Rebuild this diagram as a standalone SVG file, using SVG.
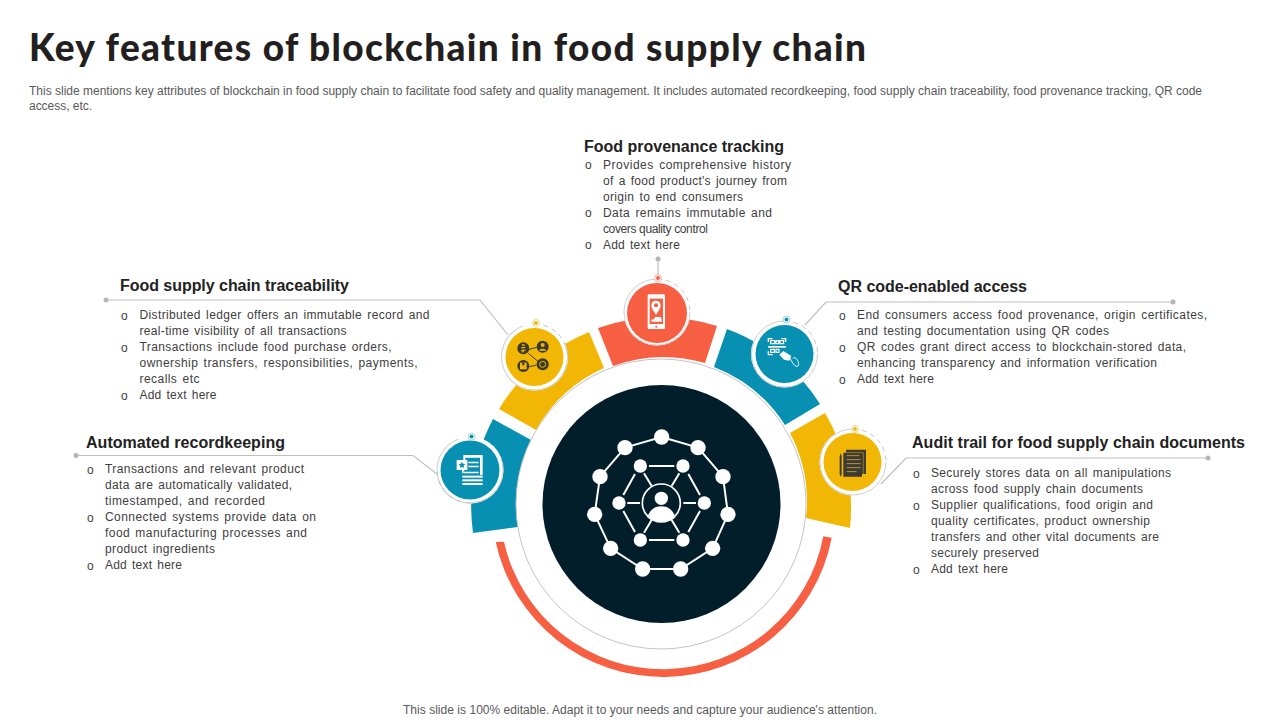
<svg xmlns="http://www.w3.org/2000/svg" width="1280" height="720" viewBox="0 0 1280 720">
<style>
text{font-family:"Liberation Sans",Arial,sans-serif}
.title{font-family:Lato,"Liberation Sans",sans-serif;font-weight:900;font-size:37px;fill:#231f20}
.sub{font-size:12px;fill:#595959}
.h{font-weight:700;font-size:16px;fill:#222}
.b{font-size:12px;fill:#404040;word-spacing:1.5px}
.o{font-family:"Liberation Mono",monospace;font-size:12px;fill:#404040}
.conn{fill:none;stroke:#bfbfbf;stroke-width:1.2}
.cdot{fill:#b5b5b5}
.disc{fill:#fff}
.ring{fill:none;stroke:#cfcfcf;stroke-width:1}
.dash{fill:none;stroke:#bdbdbd;stroke-width:.9;stroke-dasharray:5 4}
.w{fill:#fff}
.wl{stroke:#fff;stroke-width:6;fill:none}
.d{fill:#3a3a2c}
.dl{stroke:#3a3a2c;stroke-width:3;fill:none}
.red{fill:#f75f43}.yel{fill:#f2b705}.tea{fill:#0890b2}
</style>
<defs>
<path id="dq" d="M0-33A33 33 0 0 1 33 0"/>
<circle id="wh" r="33.5" class="disc"/>
<circle id="rg" r="33" class="ring" pathLength="360" stroke-dasharray="270 90"/>
</defs>
<rect width="1280" height="720" fill="#fff"/>
<text class="title" x="29" y="61" textLength="837" lengthAdjust="spacing">Key features of blockchain in food supply chain</text>
<text class="sub" x="29" y="94.500" textLength="1173" lengthAdjust="spacing">This slide mentions key attributes of blockchain in food supply chain to facilitate food safety and quality management. It includes automated recordkeeping, food supply chain traceability, food provenance tracking, QR code</text>
<text class="sub" x="29" y="109.500" textLength="63" lengthAdjust="spacing">access, etc.</text>
<text class="sub" x="403" y="714" textLength="474" lengthAdjust="spacing">This slide is 100% editable. Adapt it to your needs and capture your audience's attention.</text>

<g id="hub">
<path class="tea" d="M473 533A190 190 0 0 1 493 419L531 440A146 146 0 0 0 518 527Z"/>
<path class="yel" d="M499 409A190 190 0 0 1 589 332L604 368A148 148 0 0 0 536 430Z"/>
<path class="red" d="M598 328A187 187 0 0 1 717 326L705 363A148 148 0 0 0 613 366Z"/>
<path class="tea" d="M727 329A187 187 0 0 1 820 404L785 425A148 148 0 0 0 714 367Z"/>
<path class="yel" d="M825 413A187 187 0 0 1 850 528L806 518A148 148 0 0 0 790 433Z"/>
<path class="red" d="M495.700 542A171.500 171.500 0 0 0 831.700 537.700L823.300 536.300A163 163 0 0 1 504 541.700Z"/>
<circle cx="661" cy="504" r="145" fill="#fff" stroke="#c4c4c4" stroke-width="1"/>
<circle cx="661.500" cy="504" r="119" fill="#021e2b"/>
<g transform="translate(570 410) scale(.3333)">
<path class="wl" d="M275 81L384 113L459 200L474 313L428 415L332 477H218L122 415L74 313L90 200L165 113Z"/>
<path class="wl" d="M237 168H313M237 390H313M195 192L160 255M355 192L390 255M195 366L160 303M355 366L390 303M172 279H210M340 279H378M222 190L245 228M328 190L305 228M222 368L245 330M328 368L305 330"/>
<g class="w"><circle cx="275" cy="81" r="23"/><circle cx="384" cy="113" r="23"/><circle cx="459" cy="200" r="23"/><circle cx="474" cy="313" r="23"/><circle cx="428" cy="415" r="23"/><circle cx="332" cy="477" r="23"/><circle cx="218" cy="477" r="23"/><circle cx="122" cy="415" r="23"/><circle cx="74" cy="313" r="23"/><circle cx="90" cy="200" r="23"/><circle cx="165" cy="113" r="23"/>
<circle cx="211" cy="168" r="20"/><circle cx="339" cy="168" r="20"/><circle cx="403" cy="279" r="20"/><circle cx="339" cy="390" r="20"/><circle cx="211" cy="390" r="20"/><circle cx="147" cy="279" r="20"/>
<circle cx="274" cy="265" r="20"/><path d="M232 322C240 298 255 289 274 289S308 298 316 322C300 340 250 340 232 322Z"/></g>
<circle cx="274" cy="279" r="57" fill="none" stroke="#fff" stroke-width="5"/>
</g>
</g>

<g id="connectors">
<path class="conn" d="M658 259V278"/><circle class="cdot" cx="658" cy="259" r="2.500"/>
<path class="conn" d="M106 300H480L508 335"/><circle class="cdot" cx="106" cy="300" r="2.500"/>
<path class="conn" d="M76 455.500H413L437 474"/><circle class="cdot" cx="76" cy="455.500" r="2.500"/>
<path class="conn" d="M1173 302H826L805 325"/><circle class="cdot" cx="1173" cy="302" r="2.500"/>
<path class="conn" d="M1208 458H906L881 484"/><circle class="cdot" cx="1208" cy="458" r="2.500"/>
</g>

<g id="node-provenance">
<use href="#wh" x="657" y="312"/>
<use href="#rg" transform="translate(657 312)"/>
<use href="#dq" class="dash" transform="translate(657 312)"/>
<circle cx="657" cy="313" r="30" class="red"/>
<circle cx="658" cy="278" r="3.500" fill="#fff" stroke="#f3b3a6"/><circle cx="658" cy="278" r="2" class="red"/>
<g transform="translate(610 250) scale(.3333)">
<rect class="w" x="113" y="133" width="52" height="104" rx="4"/>
<rect class="red" x="119" y="146" width="40" height="76"/>
<path class="w" d="M138 152a14 14 0 0 1 14 14c0 10-9 20-14 29c-5-9-14-19-14-29a14 14 0 0 1 14-14Z"/>
<circle class="red" cx="138" cy="166" r="6"/>
<path class="w" d="M124 215v-6l8-2l4-6h16l3 7v7Z"/>
<circle class="red" cx="139" cy="230" r="3"/>
</g>
<text class="h" x="584" y="152" textLength="200" lengthAdjust="spacing">Food provenance tracking</text>
<g class="o"><text x="585" y="169">o</text><text x="585" y="217">o</text><text x="585" y="249">o</text></g>
<g class="b">
<text x="603" y="169" textLength="188" lengthAdjust="spacing">Provides comprehensive history</text>
<text x="603" y="185" textLength="184" lengthAdjust="spacing">of a food product's journey from</text>
<text x="603" y="201" textLength="140" lengthAdjust="spacing">origin to end consumers</text>
<text x="603" y="217" textLength="169" lengthAdjust="spacing">Data remains immutable and</text>
<text x="603" y="233" textLength="105" lengthAdjust="spacing" style="word-spacing:0">covers quality control</text>
<text x="603" y="249" textLength="77" lengthAdjust="spacing">Add text here</text>
</g>
</g>

<g id="node-traceability">
<use href="#wh" x="534.500" y="357"/>
<use href="#rg" transform="translate(534.500 357) rotate(-20)"/>
<use href="#dq" class="dash" transform="translate(534.500 357)"/>
<circle cx="534.500" cy="357" r="29" class="yel"/>
<circle cx="536" cy="323" r="3.500" fill="#fff" stroke="#eed58a"/><circle cx="536" cy="323" r="2" class="yel"/>
<g transform="translate(490 310) scale(.3333)">
<path class="dl" d="M118 118L140 112M118 170L140 165M115 130L145 155"/>
<circle class="d" cx="100" cy="115" r="18"/><circle class="d" cx="158" cy="110" r="18"/><circle class="d" cx="100" cy="168" r="18"/><circle class="d" cx="158" cy="163" r="18"/>
<path class="yel" d="M96 103h8v4h-8ZM94 111h12v4h-12ZM94 119h12v4h-12ZM94 127h8v-3h-8Z"/>
<circle class="yel" cx="158" cy="105" r="6"/><path class="yel" d="M147 122c2-8 20-8 22 0Z"/>
<rect class="yel" x="90" y="158" width="20" height="20"/><rect class="d" x="97" y="158" width="6" height="8"/>
<circle cx="158" cy="163" r="9" fill="none" stroke="#f2b705" stroke-width="3"/>
</g>
<text class="h" x="120" y="291" textLength="229" lengthAdjust="spacing">Food supply chain traceability</text>
<g class="o"><text x="121" y="320">o</text><text x="121" y="352">o</text><text x="121" y="400">o</text></g>
<g class="b">
<text x="139.500" y="319" textLength="290" lengthAdjust="spacing">Distributed ledger offers an immutable record and</text>
<text x="139.500" y="335" textLength="207" lengthAdjust="spacing">real-time visibility of all transactions</text>
<text x="139.500" y="351" textLength="252" lengthAdjust="spacing">Transactions include food purchase orders,</text>
<text x="139.500" y="367" textLength="278" lengthAdjust="spacing">ownership transfers, responsibilities, payments,</text>
<text x="139.500" y="383" textLength="60" lengthAdjust="spacing">recalls etc</text>
<text x="139.500" y="399" textLength="77" lengthAdjust="spacing">Add text here</text>
</g>
</g>

<g id="node-recordkeeping">
<use href="#wh" x="470" y="470"/>
<use href="#rg" transform="translate(470 470) rotate(-20)"/>
<use href="#dq" class="dash" transform="translate(470 470) rotate(180)"/>
<circle cx="470" cy="470" r="29.500" class="tea"/>
<circle cx="471.500" cy="436.500" r="3.500" fill="#fff" stroke="#a8d3df"/><circle cx="471.500" cy="436.500" r="2" class="tea"/>
<g transform="translate(430 425) scale(.3333)">
<path class="w" d="M100 90H158V150H150V98H106V105H100Z"/>
<path class="w" d="M115 110H146V115H115ZM115 122H146V127H115ZM100 140H146V145H100Z"/>
<rect class="w" x="97" y="152" width="61" height="6"/><rect class="w" x="97" y="163" width="61" height="6"/><rect class="w" x="97" y="174" width="61" height="6"/>
<path class="w" d="M80 105H112V135H104L96 146V135H80Z"/>
<path class="tea" d="M96 110l3 6l7 1l-5 5l1 7l-6-3l-6 3l1-7l-5-5l7-1Z"/>
</g>
<text class="h" x="86" y="448" textLength="199" lengthAdjust="spacing">Automated recordkeeping</text>
<g class="o"><text x="87" y="474">o</text><text x="87" y="522">o</text><text x="87" y="570">o</text></g>
<g class="b">
<text x="105" y="473" textLength="199" lengthAdjust="spacing">Transactions and relevant product</text>
<text x="105" y="489" textLength="187" lengthAdjust="spacing">data are automatically validated,</text>
<text x="105" y="505" textLength="160" lengthAdjust="spacing">timestamped, and recorded</text>
<text x="105" y="521" textLength="211" lengthAdjust="spacing">Connected systems provide data on</text>
<text x="105" y="537" textLength="202" lengthAdjust="spacing">food manufacturing processes and</text>
<text x="105" y="553" textLength="110" lengthAdjust="spacing">product ingredients</text>
<text x="105" y="569" textLength="77" lengthAdjust="spacing">Add text here</text>
</g>
</g>

<g id="node-qr">
<use href="#wh" x="784.500" y="354"/>
<use href="#rg" transform="translate(784.500 354)"/>
<use href="#dq" class="dash" transform="translate(784.500 354)"/>
<circle cx="784.500" cy="354" r="29" class="tea"/>
<circle cx="786.500" cy="319.500" r="3.500" fill="#fff" stroke="#a8d3df"/><circle cx="786.500" cy="319.500" r="2" class="tea"/>
<g transform="translate(740 310) scale(.3333)">
<path d="M85 96V86H98M124 86H137V96M85 124V134H98" fill="none" stroke="#fff" stroke-width="4"/>
<path d="M92 92h12v9h-12ZM108 92h8v9h-8ZM120 92h11v9h-11Z" fill="none" stroke="#fff" stroke-width="3.500"/>
<rect class="w" x="84" y="108" width="54" height="5"/>
<path d="M92 118h11v9h-11ZM108 118h9v9h-9Z" fill="none" stroke="#fff" stroke-width="3.500"/>
<path class="w" d="M118 134l12-11l24 15l-6 14l-16-3Z"/>
<path d="M150 145c5 8 12 24 20 24c8 0 7-9 3-17c-3-7-11-12-14-7" fill="none" stroke="#fff" stroke-width="3"/>
</g>
<text class="h" x="838" y="292" textLength="189" lengthAdjust="spacing">QR code-enabled access</text>
<g class="o"><text x="839" y="320">o</text><text x="839" y="352">o</text><text x="839" y="384">o</text></g>
<g class="b">
<text x="857" y="319" textLength="350" lengthAdjust="spacing">End consumers access food provenance, origin certificates,</text>
<text x="857" y="335" textLength="252" lengthAdjust="spacing">and testing documentation using QR codes</text>
<text x="857" y="351" textLength="329" lengthAdjust="spacing">QR codes grant direct access to blockchain-stored data,</text>
<text x="857" y="367" textLength="300" lengthAdjust="spacing">enhancing transparency and information verification</text>
<text x="857" y="383" textLength="77" lengthAdjust="spacing">Add text here</text>
</g>
</g>

<g id="node-audit">
<use href="#wh" x="853" y="462"/>
<use href="#rg" transform="translate(853 462)"/>
<use href="#dq" class="dash" transform="translate(853 462)"/>
<circle cx="852.500" cy="462" r="29" class="yel"/>
<circle cx="855" cy="429" r="3.500" fill="#fff" stroke="#eed58a"/><circle cx="855" cy="429" r="2" class="yel"/>
<g transform="translate(740 310) scale(.3333)">
<path fill="#3d3a33" d="M318 419H378V492H366V500H310V428H318Z"/>
<path fill="none" stroke="#f2b705" stroke-width="1.500" d="M318 428H370V492"/>
<path fill="none" stroke="#c9a63a" stroke-width="2.500" d="M320 437H358M320 449H362M320 461H362M320 473H362M320 485H350"/>
<path fill="#3d3a33" d="M299 438L302 430L305 438V493L302 500L299 493Z"/>
</g>
<text class="h" x="912" y="448" textLength="333" lengthAdjust="spacing">Audit trail for food supply chain documents</text>
<g class="o"><text x="913" y="478">o</text><text x="913" y="510">o</text><text x="913" y="574">o</text></g>
<g class="b">
<text x="931" y="477" textLength="240" lengthAdjust="spacing">Securely stores data on all manipulations</text>
<text x="931" y="493" textLength="212" lengthAdjust="spacing">across food supply chain documents</text>
<text x="931" y="509" textLength="222" lengthAdjust="spacing">Supplier qualifications, food origin and</text>
<text x="931" y="525" textLength="219" lengthAdjust="spacing">quality certificates, product ownership</text>
<text x="931" y="541" textLength="228" lengthAdjust="spacing">transfers and other vital documents are</text>
<text x="931" y="557" textLength="108" lengthAdjust="spacing">securely preserved</text>
<text x="931" y="573" textLength="77" lengthAdjust="spacing">Add text here</text>
</g>
</g>
</svg>
